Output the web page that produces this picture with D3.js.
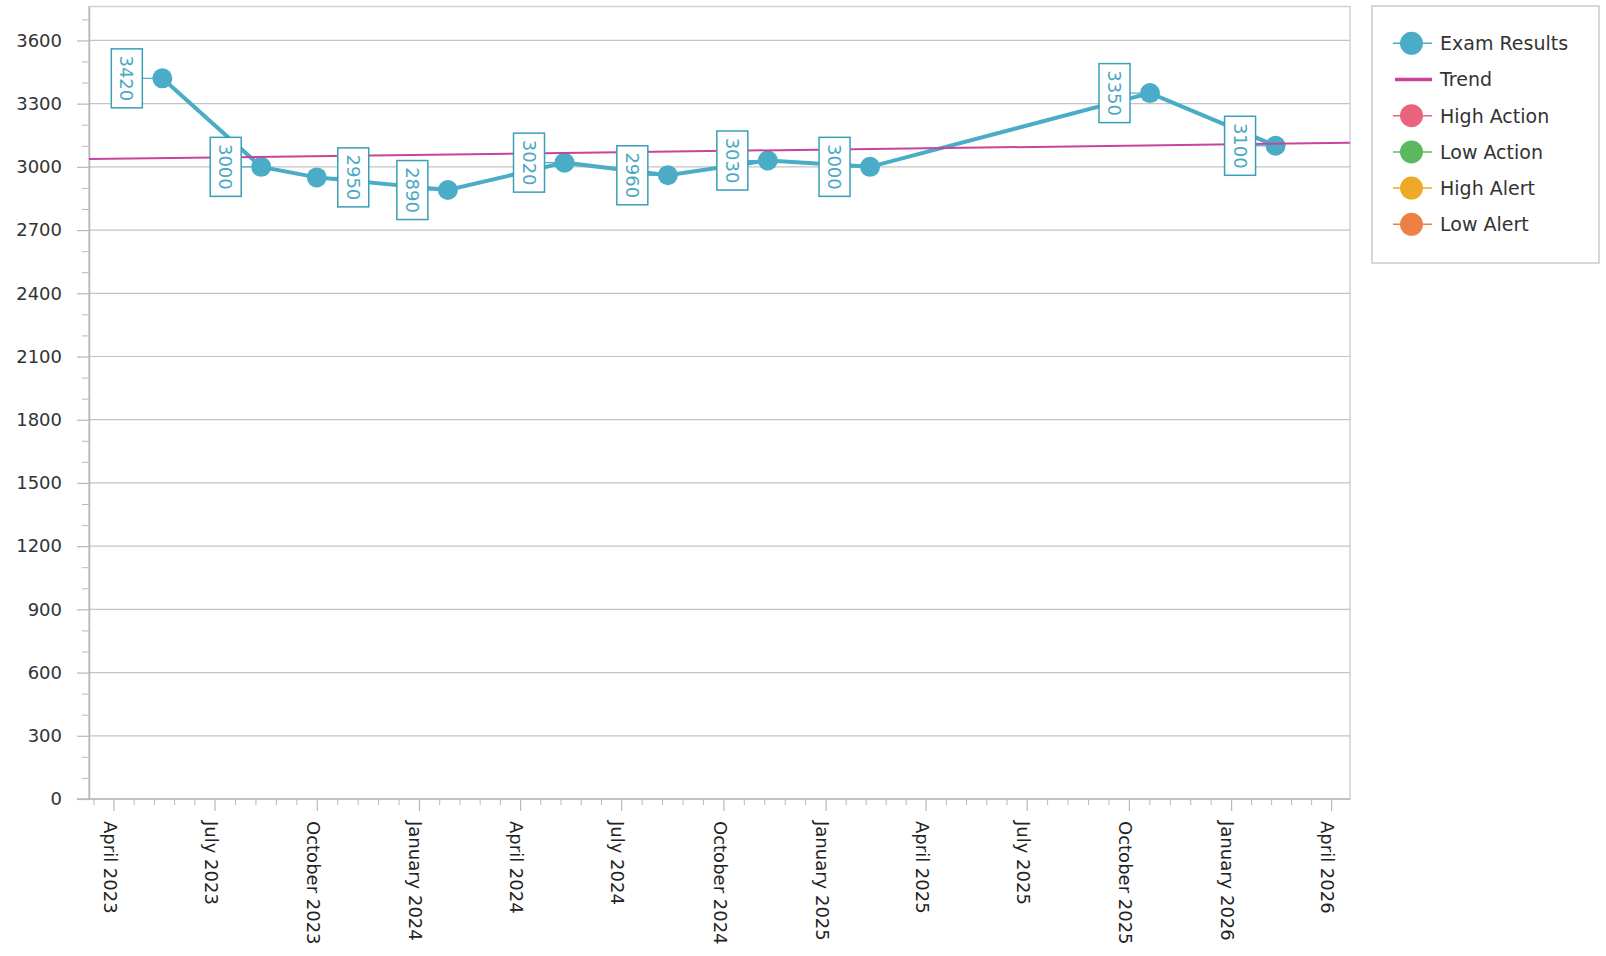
<!DOCTYPE html>
<html>
<head>
<meta charset="utf-8">
<script src="https://cdn.jsdelivr.net/npm/d3@7"></script>
<style>
  body { margin: 0; background: #fff; }
  text { font-family: "DejaVu Sans", sans-serif; }
</style>
</head>
<body>
<div id="chart"></div>
<script>
// values
const pointDates = ["2023-05-15", "2023-08-12", "2023-10-01", "2024-01-27", "2024-05-11",
                    "2024-08-12", "2024-11-10", "2025-02-10", "2025-10-20", "2026-02-10"];
const pointValues = [3420, 3000, 2950, 2890, 3020, 2960, 3030, 3000, 3350, 3100];
const trendDates = ["2023-03-10", "2026-04-18"];
const trendValues = [3037, 3114];
const xTickDates = ["2023-04-01", "2023-07-01", "2023-10-01", "2024-01-01", "2024-04-01",
                    "2024-07-01", "2024-10-01", "2025-01-01", "2025-04-01", "2025-07-01",
                    "2025-10-01", "2026-01-01", "2026-04-01"];
const yTicks = [0, 300, 600, 900, 1200, 1500, 1800, 2100, 2400, 2700, 3000, 3300, 3600];
const legendNames = ["Exam Results", "Trend", "High Action", "Low Action", "High Alert", "Low Alert"];
const legendColors = ["#4aacc6", "#c8449c", "#e8637d", "#5cb85f", "#f0a828", "#ee8046"];

const parse = d3.timeParse("%Y-%m-%d");
const W = 1606, H = 956;
const pLeft = 89, pRight = 1350, pTop = 6.5, pBottom = 799;
const seriesColor = legendColors[0], trendColor = legendColors[1];

let svg = d3.select("#chart").append("svg").attr("width", W).attr("height", H);

let x = d3.scaleTime().domain([parse("2023-03-10"), parse("2026-04-18")]).range([pLeft, pRight]);
let y = d3.scaleLinear().domain([0, 3761]).range([pBottom, pTop]);

// frame
svg.append("rect").attr("x", pLeft).attr("y", pTop).attr("width", pRight - pLeft).attr("height", pBottom - pTop)
  .attr("fill", "#fff").attr("stroke", "#d2d2d2").attr("stroke-width", 1.5);

// gridlines
svg.append("g").selectAll("line").data(yTicks.filter(d => d > 0)).join("line")
  .attr("x1", pLeft).attr("x2", pRight).attr("y1", d => y(d)).attr("y2", d => y(d))
  .attr("stroke", "#c4c4c4").attr("stroke-width", 1.2);

// y axis: minor then major
let minorY = d3.range(100, 3800, 100).filter(d => d % 300 != 0 && y(d) > pTop);
svg.append("g").attr("transform", `translate(${pLeft},0)`)
  .call(d3.axisLeft(y).tickValues(minorY).tickSize(7).tickFormat(""))
  .call(g => g.select(".domain").remove())
  .selectAll("line").attr("stroke", "#b8b8b8");
let yAxis = svg.append("g").attr("transform", `translate(${pLeft},0)`)
  .call(d3.axisLeft(y).tickValues(yTicks).tickSize(12).tickPadding(15).tickSizeOuter(0).tickFormat(d3.format("d")));
yAxis.select(".domain").attr("stroke", "#b8b8b8").attr("stroke-width", 1.5);
yAxis.selectAll("line").attr("stroke", "#b8b8b8").attr("stroke-width", 1.2);
yAxis.selectAll("text").attr("font-size", 18).attr("fill", "#333").attr("font-family", "DejaVu Sans");

// x axis
let majors = xTickDates.map(parse);
let ext = [parse("2023-01-01")].concat(majors);
let minorX = [];
for (let i = 0; i < ext.length - 1; i++) {
  for (let k = 1; k < 5; k++) {
    let px = x(ext[i]) + (x(ext[i + 1]) - x(ext[i])) * k / 5;
    if (px > pLeft && px < pRight) minorX.push(x.invert(px));
  }
}
svg.append("g").attr("transform", `translate(0,${pBottom})`)
  .call(d3.axisBottom(x).tickValues(minorX).tickSize(6).tickFormat(""))
  .call(g => g.select(".domain").remove())
  .selectAll("line").attr("stroke", "#b8b8b8");
let xAxis = svg.append("g").attr("transform", `translate(0,${pBottom})`)
  .call(d3.axisBottom(x).tickValues(majors).tickSize(12).tickSizeOuter(0).tickFormat(d3.timeFormat("%B %Y")));
xAxis.select(".domain").attr("d", `M${pLeft - 12},0H${pRight}`).attr("stroke", "#b8b8b8").attr("stroke-width", 1.5);
xAxis.selectAll("line").attr("stroke", "#b8b8b8").attr("stroke-width", 1.2);
xAxis.selectAll("text")
  .attr("transform", "rotate(90)").attr("x", 22).attr("y", 4).attr("dy", "0.35em")
  .style("text-anchor", "start").attr("font-size", 18).attr("fill", "#222").attr("font-family", "DejaVu Sans");

// series
let pts = pointDates.map((d, i) => ({ date: parse(d), value: pointValues[i] }));
let line = d3.line().x(d => x(d.date)).y(d => y(d.value));
svg.append("path").datum(pts).attr("d", line).attr("fill", "none")
  .attr("stroke", seriesColor).attr("stroke-width", 4);

// labels: left of point unless that hits the previous marker
const bw = 31, bh = 59, gap = 20, r = 10;
pts.forEach((p, i) => {
  let px = x(p.date), py = y(p.value);
  let bx = px - gap - bw;
  if (i > 0 && x(pts[i - 1].date) + r + 2 > bx) bx = px + gap + 1;
  p.bx = bx; p.by = py - bh / 2; p.px = px; p.py = py;
});
svg.append("g").selectAll("line").data(pts).join("line")
  .attr("x1", d => d.bx < d.px ? d.bx + bw : d.bx).attr("x2", d => d.px)
  .attr("y1", d => d.py).attr("y2", d => d.py)
  .attr("stroke", seriesColor).attr("stroke-width", 1.2);

svg.append("g").selectAll("circle").data(pts).join("circle")
  .attr("cx", d => d.px).attr("cy", d => d.py).attr("r", r).attr("fill", seriesColor);

// trend
let trend = trendDates.map((d, i) => ({ date: parse(d), value: trendValues[i] }));
svg.append("path").datum(trend).attr("d", line).attr("fill", "none")
  .attr("stroke", trendColor).attr("stroke-width", 2);

let boxes = svg.append("g").selectAll("g").data(pts).join("g");
boxes.append("rect").attr("x", d => d.bx).attr("y", d => d.by).attr("width", bw).attr("height", bh)
  .attr("fill", "#fff").attr("stroke", "#3b9fb6").attr("stroke-width", 1.5);
boxes.append("text")
  .attr("transform", d => `translate(${d.bx + bw / 2},${d.by + bh / 2}) rotate(90)`)
  .attr("text-anchor", "middle").attr("dy", "0.36em")
  .attr("font-size", 18).attr("fill", "#4aa8c2")
  .text(d => d.value);

// legend
let lg = svg.append("g");
lg.append("rect").attr("x", 1372).attr("y", 6).attr("width", 227).attr("height", 257)
  .attr("fill", "#fff").attr("stroke", "#cacaca").attr("stroke-width", 1.5);
legendNames.forEach((name, i) => {
  let cy = 43.3 + i * 36.2;
  let item = lg.append("g");
  if (name == "Trend") {
    item.append("line").attr("x1", 1395).attr("x2", 1432).attr("y1", cy).attr("y2", cy)
      .attr("stroke", legendColors[i]).attr("stroke-width", 3.5);
  } else {
    item.append("line").attr("x1", 1393).attr("x2", 1432).attr("y1", cy).attr("y2", cy)
      .attr("stroke", legendColors[i]).attr("stroke-width", 1.5);
    item.append("circle").attr("cx", 1411.5).attr("cy", cy).attr("r", 11.5).attr("fill", legendColors[i]);
  }
  item.append("text").attr("x", 1440).attr("y", cy).attr("dy", "0.36em")
    .attr("font-size", 19).attr("fill", "#333").text(name);
});
</script>
</body>
</html>
